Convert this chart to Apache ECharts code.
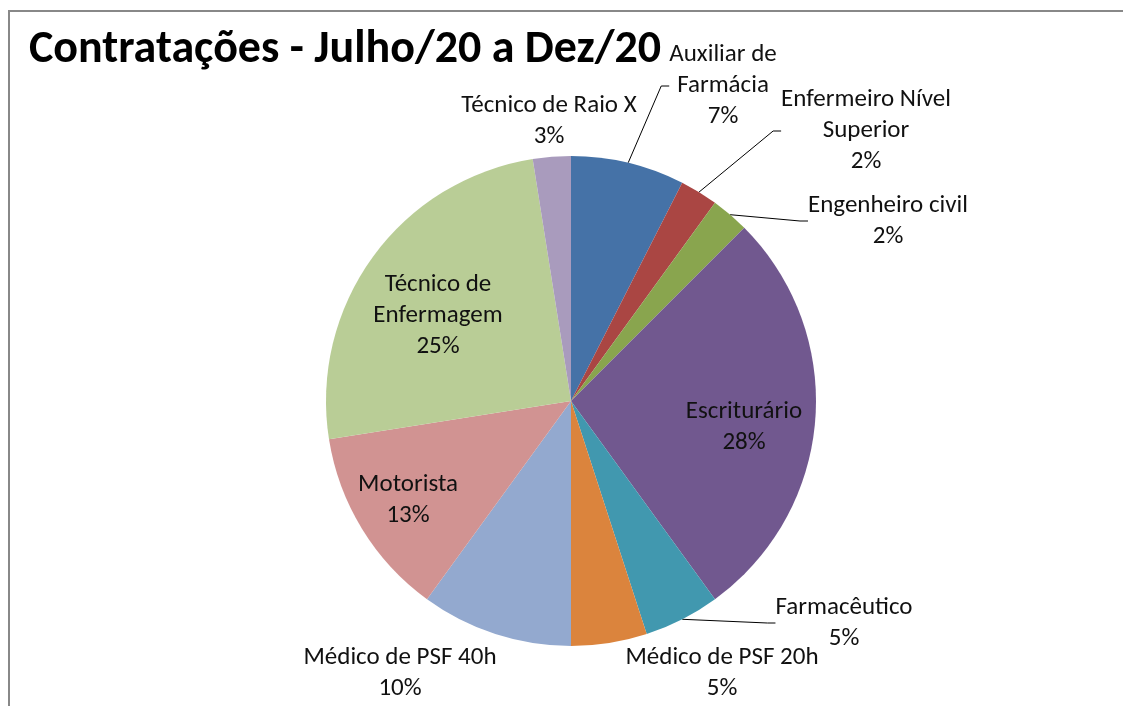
<!DOCTYPE html>
<html>
<head>
<meta charset="utf-8">
<title>Contratações - Julho/20 a Dez/20</title>
<script src="https://cdn.jsdelivr.net/npm/echarts@6/dist/echarts.min.js"></script>
<style>
  html, body { margin: 0; padding: 0; background: #fff; }
  #chart { width: 1123px; height: 706px; }
</style>
</head>
<body>
<div id="chart"></div>
<script>
// dados do gráfico
var categorias = ['Auxiliar de\nFarmácia', 'Enfermeiro Nível\nSuperior', 'Engenheiro civil', 'Escriturário',
  'Farmacêutico', 'Médico de PSF 20h', 'Médico de PSF 40h', 'Motorista', 'Técnico de\nEnfermagem', 'Técnico de Raio X'];
var contratacoes = [3, 1, 1, 11, 2, 2, 4, 5, 10, 1];
var percentuais = ['7%', '2%', '2%', '28%', '5%', '5%', '10%', '13%', '25%', '3%'];

var cores = ['#4572A7', '#AA4643', '#89A54E', '#71588F', '#4198AF',
  '#DB843D', '#93A9CF', '#D19392', '#B9CD96', '#A99BBD'];
// posição do centro de cada rótulo (px)
var posRotulo = [[723, 86], [866, 131], [888, 221], [744, 427], [844, 623],
  [722, 673], [400, 673], [408, 500], [438, 316], [549, 121]];
var comLinha = [true, true, true, false, true, false, false, false, false, false];

var fonte = 'Carlito, "Liberation Sans Narrow", "Liberation Sans", sans-serif';

var myChart = echarts.init(document.getElementById('chart'), null, { renderer: 'canvas' });

var dados = categorias.map(function (c, i) {
  return {
    name: c,
    value: contratacoes[i],
    itemStyle: { color: cores[i] },
    labelLine: { show: comLinha[i] }
  };
});

var option = {
  animation: false,
  backgroundColor: '#fff',
  title: {
    text: 'Contratações - Julho/20 a Dez/20',
    left: 24,
    top: 22,
    textStyle: { fontFamily: fonte, fontSize: 46, fontWeight: 'bold', color: '#000' }
  },
  graphic: [{
    type: 'rect',
    shape: { x: 9, y: 11, width: 1300, height: 900 },
    style: { fill: 'none', stroke: '#888', lineWidth: 2 },
    silent: true
  }],
  series: [{
    type: 'pie',
    center: [571, 401],
    radius: 245,
    startAngle: 90,
    clockwise: true,
    data: dados,
    label: {
      show: true,
      position: 'outside',
      fontFamily: fonte,
      fontSize: 25,
      lineHeight: 31,
      color: '#111',
      align: 'center',
      formatter: function (p) { return p.name + '\n' + percentuais[p.dataIndex]; }
    },
    labelLine: {
      show: true,
      length: 10,
      length2: 8,
      smooth: false,
      lineStyle: { color: '#000', width: 1 }
    },
    labelLayout: function (p) {
      var pos = posRotulo[p.dataIndex];
      return { x: pos[0], y: pos[1], align: 'center', verticalAlign: 'middle' };
    },
    emphasis: { disabled: true }
  }]
};

myChart.setOption(option);
</script>
</body>
</html>
